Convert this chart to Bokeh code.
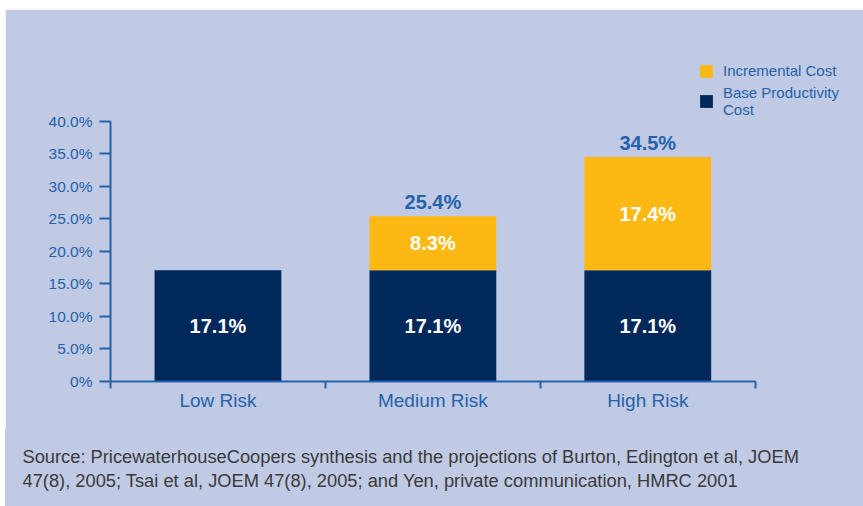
from bokeh.plotting import figure
from bokeh.layouts import column
from bokeh.models import (ColumnDataSource, Range1d, FixedTicker, Legend, LegendItem)
from bokeh.core.properties import value
from bokeh.embed import file_html
from bokeh.resources import INLINE

# ---- data ----
categories = ["Low Risk", "Medium Risk", "High Risk"]
base_cost = [17.1, 17.1, 17.1]
incremental_cost = [0.0, 8.3, 17.4]
totals = [17.1, 25.4, 34.5]
y_ticks = [0, 5, 10, 15, 20, 25, 30, 35, 40]
y_tick_labels = ["0%", "5.0%", "10.0%", "15.0%", "20.0%", "25.0%", "30.0%", "35.0%", "40.0%"]
legend_labels = ["Incremental Cost", "Base Productivity\nCost"]
source_note_lines = ["Source: PricewaterhouseCoopers synthesis and the projections of Burton, Edington et al, JOEM",
                     "47(8), 2005; Tsai et al, JOEM 47(8), 2005; and Yen, private communication, HMRC 2001"]

# ---- styles ----
PANEL = "#C0CAE4"
NAVY = "#00285A"
GOLD = "#FDB813"
BLUE = "#2462AA"
FONT = "Liberation Sans"

n = len(categories)
xs = [i + 0.5 for i in range(n)]
inc_top = [b + c for b, c in zip(base_cost, incremental_cost)]

src = ColumnDataSource(dict(x=xs, base=base_cost, inc_top=inc_top, inc=incremental_cost))

p = figure(width=858, height=421, output_backend="svg", toolbar_location=None,
           x_range=Range1d(0, 3.42), y_range=Range1d(0, 55.45),
           min_border_left=105, min_border_right=18, min_border_top=11, min_border_bottom=49)
p.margin = (9, 0, 0, 5)
p.frame_align = False
p.background_fill_color = PANEL
p.border_fill_color = PANEL
p.outline_line_color = PANEL
p.outline_line_width = 2
p.xgrid.visible = False
p.ygrid.visible = False

r_base = p.vbar(x="x", top="base", bottom=0, width=0.59, source=src,
                fill_color=NAVY, line_color=None)
r_inc = p.vbar(x="x", top="inc_top", bottom="base", width=0.59, source=src,
               fill_color=GOLD, line_color=None)

# inner labels
lab_x, lab_y, lab_t = [], [], []
for i in range(n):
    lab_x.append(xs[i]); lab_y.append(base_cost[i] / 2); lab_t.append(f"{base_cost[i]:.1f}%")
    if incremental_cost[i] > 0:
        lab_x.append(xs[i]); lab_y.append(base_cost[i] + incremental_cost[i] / 2)
        lab_t.append(f"{incremental_cost[i]:.1f}%")
p.text(x=lab_x, y=lab_y, text=lab_t, text_align="center", text_baseline="middle",
       text_color="white", text_font=value(FONT), text_font_style="bold", text_font_size="20px")

# totals above
tot_x = [xs[i] for i in range(n) if incremental_cost[i] > 0]
tot_y = [totals[i] + 2.2 for i in range(n) if incremental_cost[i] > 0]
tot_t = [f"{totals[i]:.1f}%" for i in range(n) if incremental_cost[i] > 0]
p.text(x=tot_x, y=tot_y, text=tot_t, text_align="center", text_baseline="middle",
       text_color=BLUE, text_font=value(FONT), text_font_style="bold", text_font_size="20px")

# y axis
ya = p.yaxis[0]
ya.bounds = (0, 40)
ya.ticker = FixedTicker(ticks=y_ticks)
ya.major_label_overrides = {t: l for t, l in zip(y_ticks, y_tick_labels)}
ya.axis_line_color = BLUE
ya.axis_line_width = 2
ya.major_tick_line_color = BLUE
ya.major_tick_line_width = 2
ya.major_tick_out = 11
ya.major_tick_in = 0
ya.minor_tick_line_color = None
ya.major_label_text_color = BLUE
ya.major_label_text_font = FONT
ya.major_label_text_font_size = "15.5px"
ya.major_label_standoff = 7

# x axis
xa = p.xaxis[0]
xa.bounds = (0, n)
xa.ticker = FixedTicker(ticks=xs, minor_ticks=list(range(n + 1)))
xa.major_label_overrides = {x: c for x, c in zip(xs, categories)}
xa.axis_line_color = BLUE
xa.axis_line_width = 2
xa.major_tick_line_color = None
xa.major_tick_out = 0
xa.major_tick_in = 0
xa.minor_tick_line_color = BLUE
xa.minor_tick_line_width = 2
xa.minor_tick_out = 7
xa.minor_tick_in = 0
xa.major_label_text_color = BLUE
xa.major_label_text_font = FONT
xa.major_label_text_font_size = "19px"
xa.major_label_standoff = 1

# legend
legend = Legend(items=[LegendItem(label=legend_labels[0], renderers=[r_inc]),
                       LegendItem(label=legend_labels[1], renderers=[r_base])],
                location=(588, 263), orientation="vertical",
                glyph_width=16, glyph_height=16, label_text_font=FONT,
                label_text_font_size="15px", label_text_color=BLUE,
                label_text_line_height=1.55,
                label_standoff=9, spacing=5, padding=0, margin=0,
                border_line_color=None, background_fill_alpha=0)
p.add_layout(legend, "center")

# source note panel (second figure, same background)
H2 = 76
q = figure(width=858, height=H2, output_backend="svg", toolbar_location=None,
           x_range=Range1d(0, 858), y_range=Range1d(0, H2),
           x_axis_location=None, y_axis_location=None,
           min_border_left=0, min_border_right=0, min_border_top=0, min_border_bottom=0)
q.margin = (0, 0, 0, 5)
q.frame_align = False
q.background_fill_color = PANEL
q.border_fill_color = PANEL
q.outline_line_color = PANEL
q.outline_line_width = 2
q.xgrid.visible = False
q.ygrid.visible = False
q.text(x=[17] * len(source_note_lines), y=[H2 - 26 - 24 * i for i in range(len(source_note_lines))],
       text=source_note_lines, text_align="left", text_baseline="middle",
       text_color="#3A3A3A", text_font=value(FONT), text_font_size="18.3px")

layout = column(p, q, spacing=0)
open("out.html", "w").write(file_html(layout, INLINE))
